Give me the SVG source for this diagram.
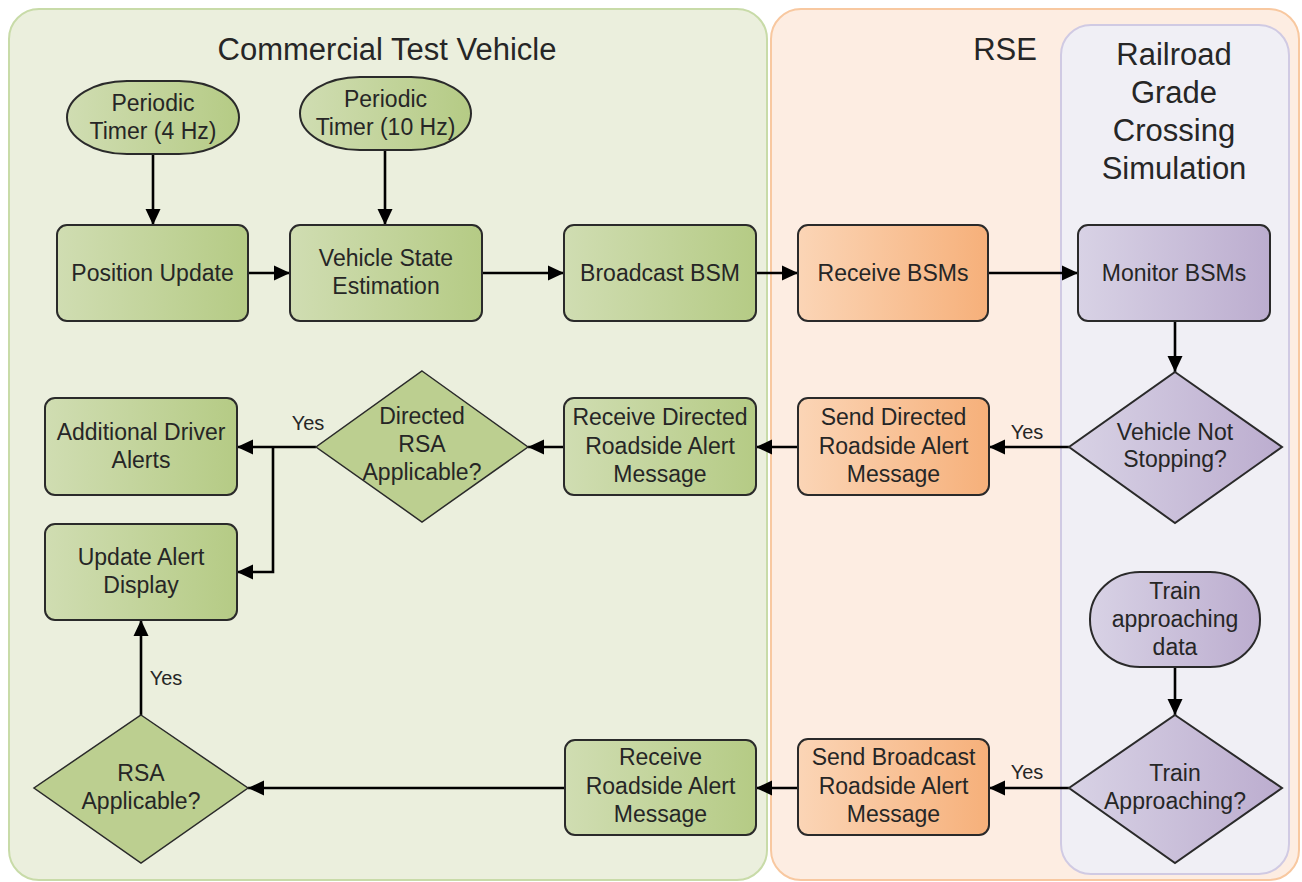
<svg xmlns="http://www.w3.org/2000/svg" width="1302" height="882" viewBox="0 0 1302 882">
<defs>
<linearGradient id="gG" x1="0" y1="0" x2="1" y2="0"><stop offset="0" stop-color="#d0ddb2"/><stop offset="1" stop-color="#b5cb85"/></linearGradient>
<linearGradient id="gO" x1="0" y1="0" x2="1" y2="0"><stop offset="0" stop-color="#fbd5b6"/><stop offset="1" stop-color="#f6b07a"/></linearGradient>
<linearGradient id="gP" x1="0" y1="0" x2="1" y2="0"><stop offset="0" stop-color="#d8d2e5"/><stop offset="1" stop-color="#bcadcf"/></linearGradient>
<marker id="ah" markerUnits="userSpaceOnUse" markerWidth="17" markerHeight="16" refX="16" refY="8" orient="auto"><path d="M0,0.5 L16,8 L0,15.5 z" fill="#000"/></marker>
<style>
.t{font-family:"Liberation Sans",Arial,sans-serif;font-size:23px;fill:#262626;text-anchor:middle}
.h{font-family:"Liberation Sans",Arial,sans-serif;font-size:31px;fill:#262626;text-anchor:middle}
.y{font-family:"Liberation Sans",Arial,sans-serif;font-size:20px;fill:#262626;text-anchor:middle}
.g{fill:url(#gG);stroke:#2a2a2a;stroke-width:2}
.o{fill:url(#gO);stroke:#2a2a2a;stroke-width:2}
.p{fill:url(#gP);stroke:#2a2a2a;stroke-width:2}
.dg{fill:#bccf90;stroke:#2a2a2a;stroke-width:1.5}
.c{fill:none;stroke:#000;stroke-width:2.6}
.ca{fill:none;stroke:#000;stroke-width:2.6;marker-end:url(#ah)}
</style>
</defs>

<g id="lanes">
<rect x="9" y="9" width="758" height="871" rx="30" fill="#ebefdd" stroke="#c8dba8" stroke-width="2"/>
<rect x="771" y="9" width="528" height="871" rx="30" fill="#fdede2" stroke="#f8c8a0" stroke-width="2"/>
<rect x="1061" y="25" width="228" height="849" rx="30" fill="#f0eff5" stroke="#d0cae3" stroke-width="2"/>
<text class="h" x="387" y="60">Commercial Test Vehicle</text>
<text class="h" x="1005" y="60">RSE</text>
<text class="h" x="1174" y="65">Railroad</text>
<text class="h" x="1174" y="103">Grade</text>
<text class="h" x="1174" y="141">Crossing</text>
<text class="h" x="1174" y="179">Simulation</text>
</g>

<g id="connectors">
<path class="ca" d="M153,154 L153,225"/>
<path class="ca" d="M385,150 L385,225"/>
<path class="ca" d="M248,273 L290,273"/>
<path class="ca" d="M482,273 L564,273"/>
<path class="ca" d="M756,273 L798,273"/>
<path class="ca" d="M988,273 L1078,273"/>
<path class="ca" d="M1175,321 L1175,372"/>
<path class="ca" d="M1069,447 L989,447"/>
<path class="ca" d="M798,447 L756,447"/>
<path class="ca" d="M564,447 L528,447"/>
<path class="ca" d="M316,447 L237,447"/>
<path class="ca" d="M273,447 L273,572 L237,572"/>
<path class="ca" d="M1175,667 L1175,715"/>
<path class="ca" d="M1069,788 L989,788"/>
<path class="ca" d="M798,788 L756,788"/>
<path class="ca" d="M565,788 L248,788"/>
<path class="ca" d="M141,715 L141,620"/>
<text class="y" x="308" y="430">Yes</text>
<text class="y" x="1027" y="439">Yes</text>
<text class="y" x="1027" y="779">Yes</text>
<text class="y" x="166" y="685">Yes</text>
</g>

<g id="timer4">
<rect class="g" x="67" y="81" width="172" height="73" rx="60" ry="36.5"/>
<text class="t" x="153" y="111">Periodic</text>
<text class="t" x="153" y="139">Timer (4 Hz)</text>
</g>
<g id="timer10">
<rect class="g" x="300" y="77" width="171" height="73" rx="60" ry="36.5"/>
<text class="t" x="385.5" y="107">Periodic</text>
<text class="t" x="385.5" y="135">Timer (10 Hz)</text>
</g>
<g id="position-update">
<rect class="g" x="57" y="225" width="191" height="96" rx="10"/>
<text class="t" x="152.5" y="281">Position Update</text>
</g>
<g id="vehicle-state">
<rect class="g" x="290" y="225" width="192" height="96" rx="10"/>
<text class="t" x="386" y="266">Vehicle State</text>
<text class="t" x="386" y="294">Estimation</text>
</g>
<g id="broadcast-bsm">
<rect class="g" x="564" y="225" width="192" height="96" rx="10"/>
<text class="t" x="660" y="281">Broadcast BSM</text>
</g>
<g id="receive-bsms">
<rect class="o" x="798" y="225" width="190" height="96" rx="10"/>
<text class="t" x="893" y="281">Receive BSMs</text>
</g>
<g id="monitor-bsms">
<rect class="p" x="1078" y="225" width="192" height="96" rx="10"/>
<text class="t" x="1174" y="281">Monitor BSMs</text>
</g>
<g id="vehicle-not-stopping">
<polygon class="p" points="1175,372 1282,447 1175,523 1069,447"/>
<text class="t" x="1175" y="440">Vehicle Not</text>
<text class="t" x="1175" y="467">Stopping?</text>
</g>
<g id="send-directed">
<rect class="o" x="798" y="398" width="191" height="97" rx="10"/>
<text class="t" x="893.5" y="425">Send Directed</text>
<text class="t" x="893.5" y="454">Roadside Alert</text>
<text class="t" x="893.5" y="482">Message</text>
</g>
<g id="receive-directed">
<rect class="g" x="564" y="398" width="192" height="97" rx="10"/>
<text class="t" x="660" y="425">Receive Directed</text>
<text class="t" x="660" y="454">Roadside Alert</text>
<text class="t" x="660" y="482">Message</text>
</g>
<g id="directed-rsa">
<polygon class="dg" points="422,371 528,447 422,522 316,447"/>
<text class="t" x="422" y="424">Directed</text>
<text class="t" x="422" y="452">RSA</text>
<text class="t" x="422" y="480">Applicable?</text>
</g>
<g id="additional-alerts">
<rect class="g" x="45" y="398" width="192" height="97" rx="10"/>
<text class="t" x="141" y="440">Additional Driver</text>
<text class="t" x="141" y="468">Alerts</text>
</g>
<g id="update-display">
<rect class="g" x="45" y="524" width="192" height="96" rx="10"/>
<text class="t" x="141" y="565">Update Alert</text>
<text class="t" x="141" y="593">Display</text>
</g>
<g id="train-data">
<rect class="p" x="1090" y="572" width="170" height="95" rx="50" ry="47"/>
<text class="t" x="1175" y="599">Train</text>
<text class="t" x="1175" y="627">approaching</text>
<text class="t" x="1175" y="655">data</text>
</g>
<g id="train-approaching">
<polygon class="p" points="1175,715 1282,788 1175,863 1069,788"/>
<text class="t" x="1175" y="781">Train</text>
<text class="t" x="1175" y="809">Approaching?</text>
</g>
<g id="send-broadcast">
<rect class="o" x="798" y="739" width="191" height="96" rx="10"/>
<text class="t" x="893.5" y="765">Send Broadcast</text>
<text class="t" x="893.5" y="794">Roadside Alert</text>
<text class="t" x="893.5" y="822">Message</text>
</g>
<g id="receive-roadside">
<rect class="g" x="565" y="740" width="191" height="95" rx="10"/>
<text class="t" x="660.5" y="765">Receive</text>
<text class="t" x="660.5" y="794">Roadside Alert</text>
<text class="t" x="660.5" y="822">Message</text>
</g>
<g id="rsa-applicable">
<polygon class="dg" points="141,715 248,788 141,863 34,788"/>
<text class="t" x="141" y="781">RSA</text>
<text class="t" x="141" y="809">Applicable?</text>
</g>
</svg>
